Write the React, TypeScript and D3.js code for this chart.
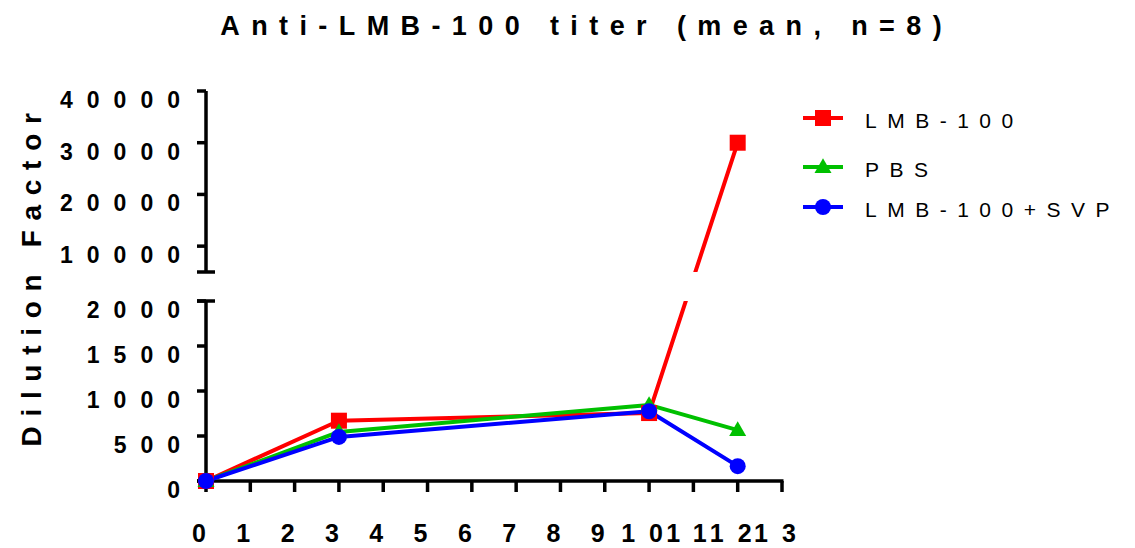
import React from "react";
import * as d3 from "d3";

// Days after first dose and mean anti-LMB-100 titers per group
const days = [0, 3, 10, 12];
const lmb100 = [0, 670, 755, 30000];
const pbs = [0, 545, 845, 565];
const lmbSvp = [0, 490, 775, 165];

const seriesNames = ["LMB-100", "PBS", "LMB-100+SVP"];
const xTickValues = [0, 1, 2, 3, 4, 5, 6, 7, 8, 9, 10, 11, 12, 13];
const yLowTicks = [0, 500, 1000, 1500, 2000];
const yHighTicks = [10000, 20000, 30000, 40000];

const W = 1135;
const H = 548;
const FONT = "'Liberation Sans', Arial, Helvetica, sans-serif";

const RED = "#ff0000";
const GREEN = "#00c000";
const BLUE = "#0000ff";

export default function App() {
  const axisX = 206;
  const axisY = 481;
  const x = d3.scaleLinear().domain([0, 13]).range([206, 782]);
  // Broken y axis: lower segment 0–2000, upper segment 5000–40000
  const yLow = d3.scaleLinear().domain([0, 2000]).range([481, 301]);
  const yHigh = d3.scaleLinear().domain([5000, 40000]).range([272, 91]);
  const y = (v: number) => (v <= 2000 ? yLow(v) : yHigh(v));
  const breakTop = yHigh(5000);
  const breakBottom = yLow(2000);

  const line = d3
    .line<number>()
    .x((_, i) => x(days[i]))
    .y((v) => y(v));

  const series = [
    { name: seriesNames[0], values: lmb100, color: RED, shape: "square" },
    { name: seriesNames[1], values: pbs, color: GREEN, shape: "triangle" },
    { name: seriesNames[2], values: lmbSvp, color: BLUE, shape: "circle" },
  ];

  const marker = (shape: string, cx: number, cy: number, color: string, key?: any) => {
    if (shape === "square")
      return <rect key={key} x={cx - 8} y={cy - 8} width={16} height={16} fill={color} />;
    if (shape === "triangle") {
      const tri = d3.symbol().type(d3.symbolTriangle).size(125)();
      return <path key={key} d={tri || ""} transform={`translate(${cx},${cy + 1})`} fill={color} />;
    }
    return <circle key={key} cx={cx} cy={cy} r={8} fill={color} />;
  };

  const tickLen = 9;
  const axisStroke = 3.5;
  const legendRows = [118, 167, 207];
  const yTickFont = { fontSize: 23, fontWeight: "bold" as const, letterSpacing: 14 };

  return (
    <svg
      width={W}
      height={H}
      style={{ position: "absolute", left: 0, top: 0, background: "#fff" }}
      fontFamily={FONT}
    >
      <defs>
        <clipPath id="breakClip">
          <rect x={0} y={0} width={W} height={breakTop} />
          <rect x={0} y={breakBottom} width={W} height={H - breakBottom} />
        </clipPath>
      </defs>

      {/* Title */}
      <text
        x={581 + 5.7}
        y={35}
        textAnchor="middle"
        fontSize={27}
        fontWeight="bold"
        letterSpacing={11.4}
      >
        Anti-LMB-100 titer (mean, n=8)
      </text>

      {/* Y axis title */}
      <text
        transform={`translate(41,275) rotate(-90)`}
        textAnchor="middle"
        fontSize={28}
        fontWeight="bold"
        letterSpacing={9.7}
      >
        Dilution Factor
      </text>

      {/* Y axis, upper segment */}
      <line x1={axisX} x2={axisX} y1={yHigh(40000)} y2={breakTop} stroke="#000" strokeWidth={axisStroke} />
      <line x1={axisX - 9} x2={axisX + 9} y1={breakTop} y2={breakTop} stroke="#000" strokeWidth={axisStroke} />
      {yHighTicks.map((t) => (
        <g key={t}>
          <line x1={axisX - tickLen} x2={axisX} y1={yHigh(t)} y2={yHigh(t)} stroke="#000" strokeWidth={axisStroke} />
          <text x={194} y={yHigh(t) + 17} textAnchor="end" {...yTickFont}>
            {t}
          </text>
        </g>
      ))}

      {/* Y axis, lower segment */}
      <line x1={axisX} x2={axisX} y1={breakBottom} y2={axisY} stroke="#000" strokeWidth={axisStroke} />
      <line x1={axisX - 9} x2={axisX + 9} y1={breakBottom} y2={breakBottom} stroke="#000" strokeWidth={axisStroke} />
      {yLowTicks.map((t) => (
        <g key={t}>
          <line x1={axisX - tickLen} x2={axisX} y1={yLow(t)} y2={yLow(t)} stroke="#000" strokeWidth={axisStroke} />
          <text x={194} y={yLow(t) + 17} textAnchor="end" {...yTickFont}>
            {t}
          </text>
        </g>
      ))}

      {/* X axis */}
      <line x1={axisX - tickLen} x2={x(13) + 1.5} y1={axisY} y2={axisY} stroke="#000" strokeWidth={axisStroke} />
      {xTickValues.map((t) => (
        <g key={t}>
          <line x1={x(t)} x2={x(t)} y1={axisY} y2={axisY + 11} stroke="#000" strokeWidth={axisStroke} />
          <text x={x(t)} y={542} textAnchor="middle" fontSize={25} fontWeight="bold" letterSpacing={14}>
            {t}
          </text>
        </g>
      ))}

      {/* Series lines */}
      <g clipPath="url(#breakClip)">
        {series.map((s) => (
          <path
            key={s.name}
            d={line(s.values) || ""}
            fill="none"
            stroke={s.color}
            strokeWidth={4}
            strokeLinejoin="round"
          />
        ))}
      </g>

      {/* Series markers */}
      {series.map((s) => (
        <g key={s.name}>
          {s.values.map((v, i) => marker(s.shape, x(days[i]), y(v), s.color, i))}
        </g>
      ))}

      {/* Legend */}
      {series.map((s, i) => (
        <g key={s.name}>
          <line x1={803} x2={843} y1={legendRows[i]} y2={legendRows[i]} stroke={s.color} strokeWidth={4} />
          {marker(s.shape, 823, legendRows[i], s.color)}
          <text x={865} y={legendRows[i] + 10} fontSize={21} letterSpacing={10.5}>
            {s.name}
          </text>
        </g>
      ))}
    </svg>
  );
}
